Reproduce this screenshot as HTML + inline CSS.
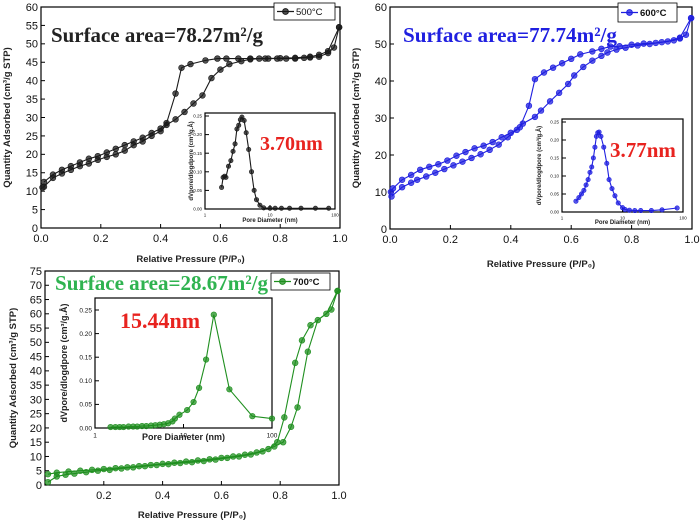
<!DOCTYPE html>
<html><head><meta charset="utf-8"><style>
body{margin:0;background:#fff;width:700px;height:524px;overflow:hidden}
svg{display:block;font-family:"Liberation Sans",Arial,sans-serif}
</style></head><body>
<svg id="fig" width="700" height="524" viewBox="0 0 700 524" xmlns="http://www.w3.org/2000/svg"></svg>
<script>
// ---- Panel 1 (500°C) data ----
const p1AdsX=[0.005,0.01,0.04,0.07,0.1,0.13,0.16,0.19,0.22,0.25,0.28,0.31,0.34,0.37,0.4,0.42,0.45,0.48,0.51,0.54,0.57,0.6,0.63,0.67,0.7,0.73,0.76,0.79,0.82,0.85,0.88,0.9,0.93,0.96,0.98,0.997];
const p1AdsY=[11,11.2,13.6,14.8,15.8,16.8,17.5,18.5,19.3,20,21,22.5,23.5,25,26.3,28,29.5,31.5,33.8,36,40.7,43,44.5,45.3,45.8,46,46,46,46,46,46.2,46.3,46.5,47.5,49,54.5];
const p1DesX=[0.997,0.96,0.93,0.9,0.85,0.8,0.75,0.7,0.66,0.62,0.59,0.55,0.5,0.47,0.45,0.42,0.4,0.37,0.34,0.31,0.28,0.25,0.22,0.19,0.16,0.13,0.1,0.07,0.04,0.01];
const p1DesY=[54.5,48,47,46.5,46.2,46.1,46,46,46,46,46,45.5,44.5,43.5,36.5,28.5,27,25.8,24.5,23.5,22.5,21.5,20.5,19.5,18.8,17.8,16.8,15.8,14.5,12.5];
const p1PsdX=[1.8,1.9,2.0,2.1,2.3,2.5,2.7,2.9,3.1,3.3,3.5,3.7,4.0,4.3,4.7,5.2,5.7,6.2,7,8,10,12,15,20,30,50,80];
const p1PsdY=[0.058,0.085,0.088,0.085,0.115,0.13,0.155,0.175,0.215,0.225,0.24,0.247,0.238,0.205,0.16,0.1,0.05,0.025,0.01,0.003,0.002,0.002,0.002,0.002,0.002,0.002,0.002];
// ---- Panel 2 (600°C) data ----
const p2AdsX=[0.005,0.04,0.07,0.09,0.12,0.15,0.18,0.21,0.24,0.27,0.3,0.33,0.36,0.39,0.42,0.44,0.48,0.5,0.53,0.56,0.59,0.61,0.64,0.67,0.7,0.72,0.75,0.78,0.82,0.86,0.9,0.94,0.96,0.98,0.997];
const p2AdsY=[8.8,11.3,12.5,13.3,14.2,15.2,16.2,17.2,18.2,19.2,20.2,21.4,22.8,24.8,26.8,28.5,30.3,32,34.5,36.8,39.2,41.5,43.8,45.5,46.8,47.7,48.5,49,49.6,50,50.5,51,51.5,52.5,57];
const p2DesX=[0.997,0.96,0.92,0.88,0.84,0.8,0.76,0.73,0.7,0.67,0.63,0.6,0.57,0.54,0.51,0.48,0.46,0.43,0.4,0.37,0.34,0.31,0.28,0.25,0.22,0.19,0.16,0.13,0.1,0.07,0.04,0.01,0.003];
const p2DesY=[57,51.7,50.7,50.3,50.1,49.8,49.4,49.3,48.7,48,47.2,46,44.8,43.6,42.3,40.5,33.3,27.5,26,24.8,23.5,22.5,21.8,20.8,19.8,18.5,17.5,16.8,16,14.6,13.3,11,10];
const p2PsdX=[1.7,1.9,2.1,2.3,2.5,2.7,2.9,3.1,3.3,3.5,3.7,3.9,4.1,4.4,4.9,5.5,6,6.7,7.5,8.5,10,11,13,16,20,30,45,80];
const p2PsdY=[0.03,0.04,0.05,0.06,0.075,0.09,0.11,0.125,0.15,0.18,0.21,0.22,0.222,0.21,0.18,0.135,0.09,0.065,0.045,0.025,0.012,0.007,0.005,0.004,0.004,0.004,0.006,0.011];
// ---- Panel 3 (700°C) data ----
const p3AdsX=[0.01,0.04,0.07,0.1,0.14,0.18,0.22,0.26,0.3,0.34,0.38,0.42,0.46,0.5,0.54,0.58,0.62,0.66,0.7,0.74,0.78,0.81,0.837,0.859,0.894,0.928,0.974,0.995];
const p3AdsY=[1,3,3.6,4,4.5,5,5.3,5.8,6.2,6.6,7,7.3,7.7,8,8.4,8.9,9.5,10,10.7,11.8,13.5,15,20.4,27.2,46.7,57.8,61.5,68];
const p3DesX=[0.995,0.957,0.903,0.874,0.851,0.814,0.79,0.76,0.72,0.68,0.64,0.6,0.56,0.52,0.48,0.44,0.4,0.36,0.32,0.28,0.24,0.2,0.16,0.12,0.08,0.04,0.01];
const p3DesY=[68,60,56,50.7,42.8,23.7,15,12.6,11.4,10.6,10,9.5,9,8.6,8.2,7.8,7.4,7,6.6,6.2,5.9,5.6,5.3,5,4.7,4.3,3.8];
const p3PsdX=[1.5,1.7,1.9,2.1,2.4,2.7,3,3.4,3.8,4.3,4.8,5.4,6,6.7,7.5,8,9,11,13,15,18,22,33,60,100];
const p3PsdY=[0.002,0.002,0.002,0.002,0.003,0.003,0.003,0.004,0.004,0.005,0.006,0.007,0.008,0.01,0.014,0.02,0.028,0.038,0.055,0.085,0.145,0.24,0.082,0.025,0.02];
const p1Ticks=[0,5,10,15,20,25,30,35,40,45,50,55,60];
const p2Ticks=[0,10,20,30,40,50,60];
const p3Ticks=[0,5,10,15,20,25,30,35,40,45,50,55,60,65,70,75];
const xTicks=[0,0.2,0.4,0.6,0.8,1.0];
const x3Ticks=[0.2,0.4,0.6,0.8,1.0];
const psdTicks=[0,0.05,0.1,0.15,0.2,0.25];
const logTicks=[1,10,100];

const NS="http://www.w3.org/2000/svg";
const svg=document.getElementById('fig');
function mk(tag,attrs,parent,name,txt){
  const e=document.createElementNS(NS,tag);
  for(const k in attrs)e.setAttribute(k,attrs[k]);
  
  
  if(txt!==undefined)e.textContent=txt;
  (parent||svg).appendChild(e);return e;
}
function linScale(d0,d1,r0,r1){return v=>r0+(v-d0)/(d1-d0)*(r1-r0);}
function logScale(d0,d1,r0,r1){return v=>r0+(Math.log10(v)-Math.log10(d0))/(Math.log10(d1)-Math.log10(d0))*(r1-r0);}
function series(g,xs,ys,sx,sy,col,r,name){
  const pts=xs.map((x,i)=>sx(x).toFixed(1)+','+sy(ys[i]).toFixed(1)).join(' ');
  mk('polyline',{points:pts,fill:'none',stroke:col,'stroke-width':1.1},g,name+'-line');
  xs.forEach((x,i)=>{
    mk('circle',{cx:sx(x),cy:sy(ys[i]),r:r,fill:col,stroke:col,'stroke-width':0.6,'fill-opacity':0.75},g,name+'-point');
  });
}
function axes(g,x0,x1,y0,y1,sx,sy,xt,yt,fmtX,fmtY,fs,name){
  mk('rect',{x:x0,y:y1,width:x1-x0,height:y0-y1,fill:'none',stroke:'#000','stroke-width':1.2},g,name+'-frame');
  xt.forEach(t=>{const X=sx(t);
    mk('line',{x1:X,y1:y0,x2:X,y2:y0-4,stroke:'#000','stroke-width':1},g,name+'-x-tick');
    mk('text',{x:X,y:y0+fs+3,'font-size':fs,'text-anchor':'middle',fill:'#111'},g,name+'-x-tick-label',fmtX(t));});
  yt.forEach(t=>{const Y=sy(t);
    mk('line',{x1:x0,y1:Y,x2:x0+4,y2:Y,stroke:'#000','stroke-width':1},g,name+'-y-tick');
    mk('text',{x:x0-3,y:Y+fs*0.35,'font-size':fs,'text-anchor':'end',fill:'#111'},g,name+'-y-tick-label',fmtY(t));});
}
function iso(cfg){
  const g=mk('g',{},svg,cfg.name);
  const sx=linScale(0,1,cfg.x0,cfg.x1), sy=linScale(0,cfg.ymax,cfg.y0,cfg.y1);
  axes(g,cfg.x0,cfg.x1,cfg.y0,cfg.y1,sx,sy,cfg.xt,cfg.yt,t=>t.toFixed(1),t=>String(t),11,cfg.name);
  series(g,cfg.adsX,cfg.adsY,sx,sy,cfg.col,2.9,cfg.name+'-adsorption');
  series(g,cfg.desX,cfg.desY,sx,sy,cfg.col,2.9,cfg.name+'-desorption');
  mk('text',{x:(cfg.x0+cfg.x1)/2,y:cfg.xtY,'font-size':9.5,'font-weight':'bold','text-anchor':'middle',fill:'#222'},g,cfg.name+'-x-axis-title','Relative Pressure (P/P₀)');
  const yc=(cfg.y0+cfg.y1)/2;
  mk('text',{x:cfg.ytX,y:yc,'font-size':9.5,'font-weight':'bold','text-anchor':'middle',fill:'#222',transform:`rotate(-90 ${cfg.ytX} ${yc})`},g,cfg.name+'-y-axis-title','Quantity Adsorbed (cm³/g STP)');
  const L=cfg.leg;
  const lg=mk('g',{},g,cfg.name+'-legend');
  mk('rect',{x:L[0],y:L[1],width:L[2],height:L[3],fill:'#fff',stroke:'#000','stroke-width':0.8},lg,'legend-box');
  mk('line',{x1:L[0]+3,y1:L[1]+L[3]/2,x2:L[0]+20,y2:L[1]+L[3]/2,stroke:cfg.col,'stroke-width':1.2},lg,'legend-line');
  mk('circle',{cx:L[0]+11.5,cy:L[1]+L[3]/2,r:2.9,fill:cfg.col,'fill-opacity':0.75,stroke:cfg.col},lg,'legend-marker');
  mk('text',{x:L[0]+22,y:L[1]+L[3]/2+3.5,'font-size':9.5,'font-weight':cfg.legBold?'bold':'normal',fill:'#111'},lg,'legend-label',cfg.legText);
  const t=mk('text',{x:cfg.tx,y:cfg.ty,'font-size':21,'font-weight':'bold','font-family':'"Liberation Serif",serif',fill:cfg.tcol,textLength:cfg.tw,lengthAdjust:'spacingAndGlyphs'},g,cfg.name+'-surface-area-label');
  t.textContent='Surface area='+cfg.area+'m²/g';
  const I=cfg.ins;
  const ig=mk('g',{},g,cfg.name+'-inset');
  mk('rect',{x:I.x0,y:I.top,width:I.x1-I.x0,height:I.y0-I.top,fill:'#fff',stroke:'none'},ig,'inset-bg');
  const isx=logScale(1,100,I.x0,I.x1), isy=linScale(0,0.25,I.y0,I.yt);
  axes(ig,I.x0,I.x1,I.y0,I.top,isx,isy,logTicks,psdTicks,t=>String(t),t=>t.toFixed(2),I.fs,cfg.name+'-inset');
  series(ig,I.px,I.py,isx,isy,cfg.col,I.r,cfg.name+'-psd');
  mk('text',{x:(I.x0+I.x1)/2,y:I.xl,'font-size':I.tfs,'font-weight':'bold','text-anchor':'middle',fill:'#222'},ig,'inset-x-axis-title','Pore Diameter (nm)');
  const yc2=(I.y0+I.top)/2;
  mk('text',{x:I.yl,y:yc2,'font-size':I.tfs,'font-weight':'bold','text-anchor':'middle',fill:'#222',transform:`rotate(-90 ${I.yl} ${yc2})`},ig,'inset-y-axis-title','dVpore/dlogdpore (cm³/g.Å)');
  mk('text',{x:I.lx,y:I.ly,'font-size':I.lfs,'font-weight':'bold','font-family':'"Liberation Serif",serif',fill:'#e8231f'},ig,'peak-pore-size-label',I.label);
}
iso({name:'panel-500c',x0:41,x1:340,y0:228,y1:7,ymax:60,xt:xTicks,yt:p1Ticks,adsX:p1AdsX,adsY:p1AdsY,desX:p1DesX,desY:p1DesY,col:'#1a1a1a',xtY:262,ytX:10,
 leg:[274,3,61,17],legText:'500°C',tx:51,ty:42,tw:212,tcol:'#222',area:'78.27',
 ins:{x0:205,x1:335,y0:209,top:113,yt:116,px:p1PsdX,py:p1PsdY,r:2.2,fs:4.5,tfs:6,xl:222,yl:193,lx:260,ly:150,lfs:20,label:'3.70nm'}});
iso({name:'panel-600c',x0:390,x1:692,y0:229,y1:7,ymax:60,xt:xTicks,yt:p2Ticks,adsX:p2AdsX,adsY:p2AdsY,desX:p2DesX,desY:p2DesY,col:'#1f1fe0',xtY:267,ytX:359,
 leg:[618,3,59,19],legText:'600°C',legBold:true,tx:403,ty:42,tw:214,tcol:'#1f1fe0',area:'77.74',
 ins:{x0:562,x1:683,y0:212,top:119,yt:122,px:p2PsdX,py:p2PsdY,r:2.2,fs:4.5,tfs:6,xl:224,yl:541,lx:610,ly:157,lfs:21,label:'3.77nm'}});
iso({name:'panel-700c',x0:45,x1:339,y0:485,y1:271,ymax:75,xt:x3Ticks,yt:p3Ticks,adsX:p3AdsX,adsY:p3AdsY,desX:p3DesX,desY:p3DesY,col:'#1f8f1f',xtY:518,ytX:16,
 leg:[271,273,59,17],legText:'700°C',legBold:true,tx:55,ty:290,tw:213,tcol:'#2fb350',area:'28.67',
 ins:{x0:95,x1:272,y0:428,top:298,yt:310,px:p3PsdX,py:p3PsdY,r:2.8,fs:6.5,tfs:9,xl:440,yl:67,lx:120,ly:328,lfs:22,label:'15.44nm'}});
</script>
</body></html>
